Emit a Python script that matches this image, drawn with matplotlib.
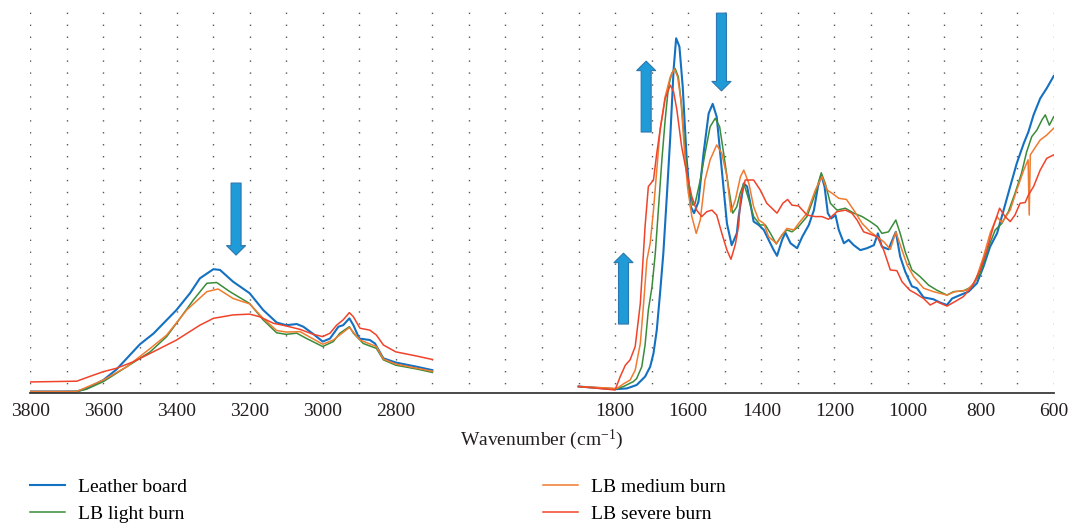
import numpy as np
import matplotlib
matplotlib.use('Agg')
import matplotlib.pyplot as plt
from matplotlib.ticker import FixedLocator

plt.rcParams['font.family'] = ['Liberation Serif', 'DejaVu Serif']
plt.rcParams['mathtext.fontset'] = 'custom'
plt.rcParams['mathtext.rm'] = 'Liberation Serif'
plt.rcParams['mathtext.it'] = 'Liberation Serif:italic'

# ---- data (wavenumber in cm-1, absorbance in arbitrary units) ----
LABELS = ['Leather board', 'LB light burn', 'LB medium burn', 'LB severe burn']
COLORS = ['#1470C0', '#3A8C3A', '#F07B30', '#F0432A']

# high-wavenumber region (3800-2700)
board_wn_hi = [3800, 3673, 3646, 3600, 3564, 3500, 3463, 3400, 3363, 3336, 3299, 3281,
               3245, 3200, 3163, 3126, 3100, 3071, 3053, 3026, 3000, 2980, 2957, 2944,
               2927, 2916, 2900, 2871, 2857, 2834, 2800, 2743, 2700]
board_hi = [0.004, 0.004, 0.012, 0.034, 0.062, 0.128, 0.156, 0.218, 0.262, 0.301, 0.325, 0.323,
            0.292, 0.262, 0.218, 0.185, 0.178, 0.181, 0.174, 0.155, 0.135, 0.143, 0.174, 0.178,
            0.196, 0.178, 0.143, 0.139, 0.130, 0.091, 0.080, 0.069, 0.060]

light_wn_hi = [3800, 3673, 3646, 3600, 3536, 3472, 3427, 3400, 3354, 3317, 3290, 3254, 3200,
               3163, 3126, 3100, 3071, 3044, 3000, 2971, 2953, 2927, 2916, 2889, 2853, 2834,
               2800, 2743, 2700]
light_hi = [0.002, 0.004, 0.010, 0.030, 0.069, 0.108, 0.148, 0.183, 0.244, 0.288, 0.290, 0.266,
            0.235, 0.192, 0.158, 0.154, 0.157, 0.143, 0.122, 0.135, 0.157, 0.174, 0.157, 0.130,
            0.117, 0.087, 0.073, 0.063, 0.054]

medium_wn_hi = [3800, 3673, 3600, 3536, 3472, 3427, 3372, 3317, 3286, 3245, 3200, 3163, 3126,
                3100, 3062, 3000, 2971, 2927, 2898, 2853, 2834, 2800, 2700]
medium_hi = [0.004, 0.004, 0.034, 0.069, 0.117, 0.152, 0.218, 0.266, 0.273, 0.248, 0.234, 0.196,
             0.164, 0.160, 0.161, 0.128, 0.139, 0.172, 0.139, 0.122, 0.089, 0.076, 0.057]

severe_wn_hi = [3800, 3673, 3627, 3600, 3564, 3518, 3472, 3400, 3336, 3299, 3245, 3200, 3172,
                3135, 3100, 3062, 3026, 3000, 2980, 2962, 2944, 2927, 2916, 2898, 2871, 2853,
                2834, 2800, 2743, 2700]
severe_hi = [0.029, 0.031, 0.047, 0.056, 0.065, 0.082, 0.104, 0.139, 0.178, 0.196, 0.205, 0.207,
             0.200, 0.183, 0.176, 0.167, 0.154, 0.148, 0.157, 0.178, 0.192, 0.211, 0.200, 0.170,
             0.165, 0.152, 0.126, 0.108, 0.097, 0.088]

# fingerprint region (1900-600)
board_wn_lo = [1900, 1800, 1768, 1741, 1718, 1704, 1695, 1686, 1677, 1668, 1658, 1649, 1640,
               1633, 1624, 1615, 1604, 1593, 1584, 1572, 1558, 1544, 1533, 1522, 1508, 1494,
               1481, 1467, 1462, 1448, 1439, 1430, 1421, 1407, 1393, 1380, 1366, 1357, 1343,
               1334, 1320, 1302, 1288, 1270, 1256, 1245, 1236, 1227, 1218, 1209, 1197, 1188,
               1174, 1161, 1147, 1129, 1111, 1092, 1081, 1070, 1052, 1032, 1020, 1006, 988,
               974, 956, 929, 910, 892, 878, 856, 833, 810, 792, 774, 755, 737, 719, 701, 682,
               669, 655, 637, 619, 600]
board_lo = [0.017, 0.010, 0.012, 0.021, 0.043, 0.069, 0.104, 0.165, 0.262, 0.367, 0.524, 0.673,
            0.848, 0.931, 0.909, 0.804, 0.612, 0.489, 0.472, 0.502, 0.629, 0.734, 0.759, 0.725,
            0.585, 0.445, 0.388, 0.419, 0.463, 0.550, 0.542, 0.498, 0.450, 0.441, 0.428, 0.402,
            0.375, 0.360, 0.402, 0.421, 0.393, 0.380, 0.410, 0.441, 0.480, 0.542, 0.572, 0.542,
            0.472, 0.458, 0.467, 0.428, 0.393, 0.402, 0.388, 0.375, 0.380, 0.388, 0.419, 0.384,
            0.377, 0.423, 0.358, 0.318, 0.280, 0.275, 0.251, 0.246, 0.237, 0.231, 0.248, 0.257,
            0.266, 0.288, 0.332, 0.384, 0.419, 0.480, 0.542, 0.603, 0.655, 0.686, 0.730, 0.773,
            0.800, 0.832]

light_wn_lo = [1900, 1800, 1777, 1750, 1741, 1727, 1718, 1709, 1699, 1690, 1681, 1672, 1663,
               1654, 1645, 1636, 1627, 1618, 1608, 1599, 1587, 1581, 1567, 1554, 1540, 1526,
               1514, 1503, 1490, 1478, 1467, 1458, 1448, 1434, 1421, 1403, 1389, 1375, 1359,
               1343, 1330, 1316, 1298, 1275, 1252, 1236, 1225, 1211, 1193, 1170, 1147, 1124,
               1102, 1083, 1070, 1052, 1032, 1020, 1006, 988, 965, 942, 920, 892, 874, 847,
               824, 801, 778, 760, 742, 724, 706, 688, 674, 660, 646, 632, 623, 612, 600]
light_lo = [0.017, 0.010, 0.017, 0.030, 0.038, 0.069, 0.126, 0.218, 0.279, 0.367, 0.489, 0.612,
            0.717, 0.804, 0.839, 0.852, 0.830, 0.752, 0.629, 0.542, 0.493, 0.498, 0.559, 0.629,
            0.699, 0.721, 0.699, 0.629, 0.542, 0.472, 0.489, 0.524, 0.550, 0.507, 0.463, 0.441,
            0.441, 0.419, 0.391, 0.415, 0.428, 0.423, 0.437, 0.463, 0.524, 0.578, 0.550, 0.498,
            0.480, 0.485, 0.472, 0.463, 0.450, 0.437, 0.419, 0.423, 0.454, 0.419, 0.370, 0.323,
            0.305, 0.283, 0.270, 0.257, 0.266, 0.268, 0.279, 0.314, 0.384, 0.428, 0.445, 0.476,
            0.524, 0.577, 0.633, 0.673, 0.690, 0.717, 0.730, 0.703, 0.725]

medium_wn_lo = [1900, 1795, 1777, 1759, 1745, 1731, 1722, 1713, 1704, 1695, 1686, 1677, 1663,
                1649, 1638, 1629, 1620, 1611, 1602, 1590, 1578, 1567, 1554, 1540, 1522, 1508,
                1494, 1483, 1471, 1457, 1448, 1434, 1421, 1407, 1393, 1380, 1359, 1343, 1330,
                1311, 1298, 1275, 1252, 1234, 1220, 1206, 1188, 1167, 1147, 1124, 1102, 1083,
                1065, 1047, 1032, 1015, 1001, 983, 956, 929, 892, 870, 837, 815, 792, 774, 755,
                742, 719, 701, 682, 670, 667, 664, 655, 637, 619, 600]
medium_lo = [0.017, 0.012, 0.024, 0.034, 0.060, 0.130, 0.235, 0.349, 0.393, 0.480, 0.585, 0.690,
             0.778, 0.830, 0.850, 0.830, 0.769, 0.647, 0.542, 0.463, 0.419, 0.454, 0.559, 0.612,
             0.651, 0.629, 0.568, 0.475, 0.507, 0.568, 0.585, 0.550, 0.489, 0.454, 0.445, 0.410,
             0.393, 0.415, 0.432, 0.428, 0.445, 0.472, 0.533, 0.568, 0.533, 0.524, 0.511, 0.508,
             0.480, 0.445, 0.423, 0.410, 0.397, 0.377, 0.423, 0.375, 0.336, 0.305, 0.275, 0.266,
             0.257, 0.266, 0.270, 0.292, 0.358, 0.419, 0.463, 0.447, 0.480, 0.533, 0.585, 0.612,
             0.467, 0.625, 0.638, 0.664, 0.677, 0.695]

severe_wn_lo = [1900, 1800, 1786, 1772, 1759, 1745, 1731, 1718, 1709, 1695, 1686, 1677, 1663,
                1649, 1640, 1631, 1618, 1604, 1590, 1577, 1563, 1549, 1535, 1522, 1508, 1494,
                1483, 1471, 1462, 1457, 1444, 1421, 1403, 1385, 1357, 1341, 1328, 1316, 1298,
                1275, 1252, 1234, 1216, 1193, 1170, 1152, 1138, 1120, 1102, 1083, 1065, 1047,
                1029, 1015, 994, 979, 956, 938, 920, 892, 870, 847, 824, 801, 783, 765, 748,
                733, 719, 706, 692, 678, 669, 655, 637, 619, 600]
severe_lo = [0.017, 0.008, 0.043, 0.073, 0.087, 0.122, 0.235, 0.437, 0.542, 0.559, 0.629, 0.690,
             0.773, 0.808, 0.791, 0.743, 0.647, 0.577, 0.515, 0.480, 0.463, 0.476, 0.480, 0.467,
             0.419, 0.375, 0.351, 0.390, 0.440, 0.510, 0.559, 0.559, 0.533, 0.498, 0.472, 0.498,
             0.508, 0.493, 0.491, 0.467, 0.463, 0.463, 0.456, 0.476, 0.480, 0.472, 0.454, 0.423,
             0.417, 0.410, 0.375, 0.323, 0.321, 0.292, 0.270, 0.262, 0.248, 0.231, 0.240, 0.228,
             0.240, 0.253, 0.279, 0.323, 0.375, 0.437, 0.485, 0.463, 0.450, 0.467, 0.498, 0.500,
             0.520, 0.542, 0.585, 0.616, 0.625]

HI_TICKS = [3800, 3600, 3400, 3200, 3000, 2800]
LO_TICKS = [1800, 1600, 1400, 1200, 1000, 800, 600]


# broken wavenumber axis: 3800-2700 and 1900-600 at the same density,
# the 2700-1900 stretch squeezed to half
def forward(wn):
    wn = np.asarray(wn, dtype=float)
    return np.where(wn >= 2700, (3800 - wn) / 100,
                    np.where(wn <= 1900, 15 + (1900 - wn) / 100,
                             11 + (2700 - wn) / 200))


def inverse(p):
    p = np.asarray(p, dtype=float)
    return np.where(p <= 11, 3800 - 100 * p,
                    np.where(p >= 15, 1900 - 100 * (p - 15),
                             2700 - 200 * (p - 11)))


W, H = 1071, 523
fig = plt.figure(figsize=(W / 100, H / 100), dpi=100)
ax = fig.add_axes([30.3 / W, 1 - 393 / H, 1023.4 / W, 381 / H])
ax.set_xscale('function', functions=(forward, inverse))

series = [(board_wn_hi, board_hi, board_wn_lo, board_lo),
          (light_wn_hi, light_hi, light_wn_lo, light_lo),
          (medium_wn_hi, medium_hi, medium_wn_lo, medium_lo),
          (severe_wn_hi, severe_hi, severe_wn_lo, severe_lo)]
handles = []
for (wh, vh, wl, vl), lab, col in zip(series, LABELS, COLORS):
    x = np.r_[wh, np.nan, wl]
    y = np.r_[vh, np.nan, vl]
    lw = 1.5 if lab == 'Leather board' else 1.1
    h, = ax.plot(x, y, color=col, lw=lw, label=lab, solid_joinstyle='round')
    handles.append(h)

# the scale is decreasing, so the limits go low-to-high to put 3800 on the left
ax.set_xlim(600, 3800)
ax.set_ylim(0, 1)

grid_wn = list(range(3800, 2600, -100)) + [2500, 2300, 2100] + list(range(1900, 500, -100))
ticks = HI_TICKS + LO_TICKS
ax.xaxis.set_major_locator(FixedLocator(ticks))
ax.xaxis.set_minor_locator(FixedLocator(grid_wn))
ax.set_xticklabels([str(t) for t in ticks])
ax.grid(True, which='both', axis='x', color='#555555', lw=1.0,
        linestyle=(2, (1, 7.6)))
ax.tick_params(axis='x', which='both', length=0, pad=7, labelsize=14,
               labelcolor='#231f20')
ax.set_yticks([])
for s in ['left', 'right', 'top']:
    ax.spines[s].set_visible(False)
ax.spines['bottom'].set_color('#3a3a3a')
ax.spines['bottom'].set_linewidth(1.3)

ax.set_xlabel('Wavenumber (cm$^{-1}$)', fontsize=14, color='#231f20', labelpad=6)

# blue arrows marking band changes
arrow_kw = dict(arrowstyle='simple,head_length=0.68,head_width=1.37,tail_width=0.72',
                fc='#1F9BD7', ec='#2E77AE', lw=0.8, shrinkA=0, shrinkB=0,
                mutation_scale=10)
for tip, tail in [((3237, 0.362), (3237, 0.551)),
                  ((1715, 0.871), (1715, 0.685)),
                  ((1509, 0.793), (1509, 0.997)),
                  ((1777, 0.367), (1777, 0.181))]:
    ax.annotate('', xy=tip, xytext=tail, arrowprops=arrow_kw, annotation_clip=False)

leg_kw = dict(frameon=False, fontsize=14, handlelength=1.8, handletextpad=0.65,
              labelspacing=0.5, borderpad=0, borderaxespad=0, loc='upper left')
leg1 = fig.legend([handles[0], handles[1]], [LABELS[0], LABELS[1]],
                  bbox_to_anchor=(30 / W, 1 - 478 / H), **leg_kw)
leg2 = fig.legend([handles[2], handles[3]], [LABELS[2], LABELS[3]],
                  bbox_to_anchor=(543 / W, 1 - 478 / H), **leg_kw)

fig.savefig('out.png', dpi=100)
